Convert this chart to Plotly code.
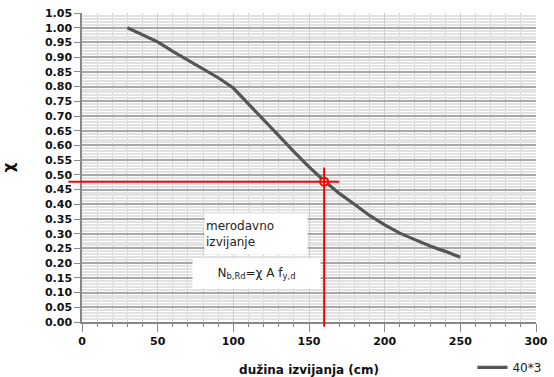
import plotly.graph_objects as go

# data
lengths = [30, 40, 50, 60, 70, 80, 90, 100, 110, 120, 130, 140, 150, 160,
           170, 180, 190, 200, 210, 220, 230, 240, 250]
chi = [1.00, 0.975, 0.952, 0.92, 0.89, 0.86, 0.83, 0.795, 0.742, 0.688, 0.633,
       0.579, 0.527, 0.48, 0.437, 0.40, 0.362, 0.33, 0.302, 0.28, 0.258, 0.24, 0.22]
series_name = "40*3"
point_x = [160]
point_y = [0.477]
x_range = [0, 300]
y_range = [0, 1.05]

fig = go.Figure()
fig.add_trace(go.Scatter(x=lengths, y=chi, mode="lines", name=series_name,
                         line=dict(color="#555555", width=3.2)))

def px_x(v):
    return (v - x_range[0]) / (x_range[1] - x_range[0])

def px_y(v):
    return (v - y_range[0]) / (y_range[1] - y_range[0])

# red reference lines
fig.add_shape(type="line", xref="paper", yref="y",
              x0=px_x(-9), x1=px_x(170), y0=point_y[0], y1=point_y[0],
              line=dict(color="#ff0000", width=2))
fig.add_shape(type="line", xref="x", yref="paper",
              x0=point_x[0], x1=point_x[0], y0=px_y(-0.015), y1=px_y(0.525),
              line=dict(color="#ff0000", width=2))
fig.add_trace(go.Scatter(x=point_x, y=point_y, mode="markers", showlegend=False,
                         marker=dict(size=8, color="white",
                                     line=dict(color="#ff0000", width=2))))

fig.add_annotation(x=115, y=0.299, xref="x", yref="y", showarrow=False,
                   text="merodavno<br>izvijanje", align="left",
                   bgcolor="white", width=100, height=38,
                   font=dict(family="DejaVu Sans", size=12, color="#222"))
fig.add_annotation(x=115, y=0.165, xref="x", yref="y", showarrow=False,
                   text="N<sub>b,Rd</sub>=χ A f<sub>y,d</sub>",
                   bgcolor="white", width=125, height=27,
                   font=dict(family="DejaVu Sans", size=12, color="#222"))

tickfont = dict(family="DejaVu Sans", size=11, color="#111", weight="bold")
fig.update_xaxes(range=x_range, dtick=50, tick0=0, showgrid=True,
                 gridcolor="#cfcfcf", gridwidth=1, automargin=False,
                 minor=dict(dtick=10, showgrid=True, gridcolor="#cfcfcf",
                            ticks="outside", ticklen=3, tickcolor="#888"),
                 showline=True, linecolor="#888", linewidth=1.5,
                 ticks="outside", ticklen=8, tickcolor="#888",
                 tickfont=tickfont, zeroline=False,
                 title=dict(text="<b>dužina izvijanja (cm)</b>", standoff=20,
                            font=dict(family="DejaVu Sans", size=12, color="#111")))
fig.update_yaxes(range=y_range, dtick=0.05, tick0=0, tickformat=".2f",
                 showgrid=True, gridcolor="#a8a8a8", gridwidth=1.5, automargin=False,
                 minor=dict(dtick=0.01, showgrid=True, gridcolor="#e2e2e2"),
                 showline=True, linecolor="#888", linewidth=1.5,
                 ticks="outside", ticklen=6, tickcolor="#888",
                 tickfont=tickfont, zeroline=False,
                 title=dict(text="<b>χ</b>", standoff=40,
                            font=dict(family="DejaVu Sans", size=15, color="#111")))

fig.update_layout(width=554, height=377,
                  margin=dict(l=82, r=18, t=13, b=55, autoexpand=False),
                  paper_bgcolor="white", plot_bgcolor="white",
                  showlegend=True,
                  legend=dict(x=0.86, y=-0.10, xanchor="left", yanchor="top",
                              bgcolor="rgba(0,0,0,0)",
                              font=dict(family="DejaVu Sans", size=12, color="#222")))
fig.write_html("out.html")
